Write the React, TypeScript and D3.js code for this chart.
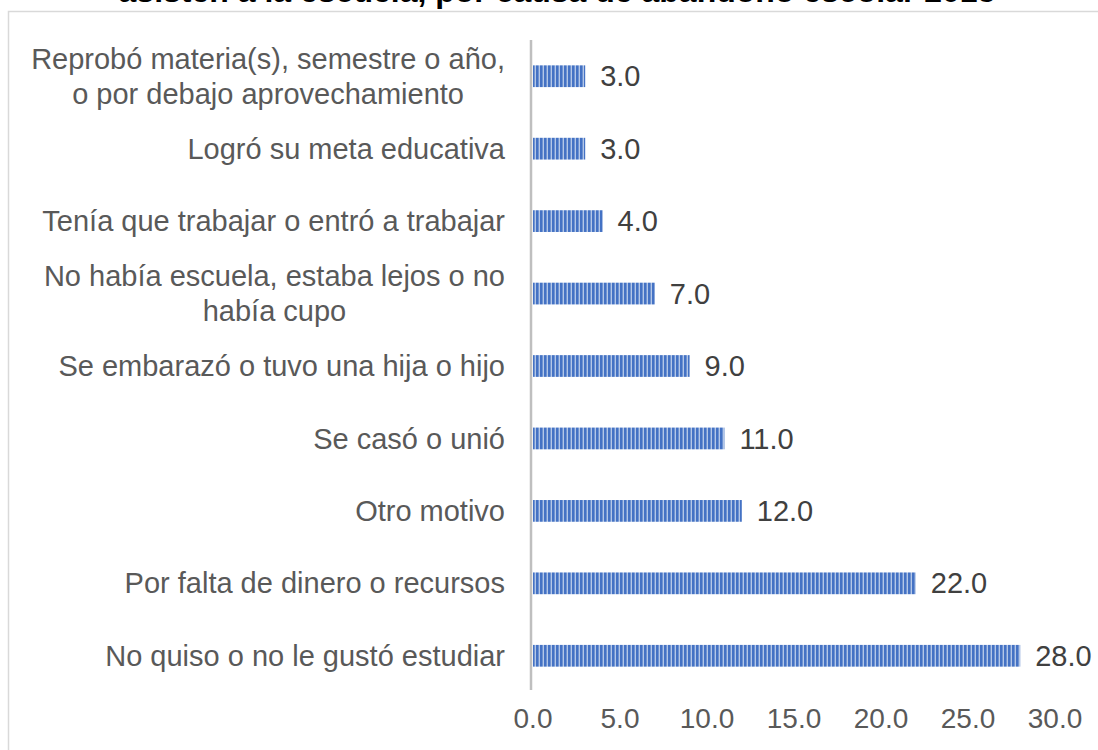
import React, { useEffect, useRef } from "react";
import * as d3 from "d3";

const categories = [
  "Reprobó materia(s), semestre o año,|o por debajo aprovechamiento",
  "Logró su meta educativa",
  "Tenía que trabajar o entró a trabajar",
  "No había escuela, estaba lejos o no|había cupo",
  "Se embarazó o tuvo una hija o hijo",
  "Se casó o unió",
  "Otro motivo",
  "Por falta de dinero o recursos",
  "No quiso o no le gustó estudiar",
];
const values = [3.0, 3.0, 4.0, 7.0, 9.0, 11.0, 12.0, 22.0, 28.0];
const ticks = [0, 5, 10, 15, 20, 25, 30];
const titleTail = "asisten a la escuela, por causa de abandono escolar 2015";

const App = () => {
  const svgRef = useRef<SVGSVGElement>(null);

  useEffect(() => {
    const width = 1098;
    const height = 750;
    const svg = d3.select(svgRef.current);
    svg.selectAll("*").remove();

    const font = "'Liberation Sans', Arial, sans-serif";
    const fs = "29px";
    const data = categories.map((c, i) => ({ cat: c, value: values[i] }));

    const x = d3.scaleLinear().domain([0, 30]).range([533, 1055]);
    const y = d3
      .scaleBand()
      .domain(categories)
      .range([40, 692])
      .paddingInner(0.7)
      .paddingOuter(0.35);

    // striped fill like the office chart
    const defs = svg.append("defs");
    const pat = defs
      .append("pattern")
      .attr("id", "stripes")
      .attr("patternUnits", "userSpaceOnUse")
      .attr("width", 4)
      .attr("height", 4);
    pat.append("rect").attr("width", 4).attr("height", 4).attr("fill", "#b4c7e7");
    pat.append("rect").attr("width", 2.6).attr("height", 4).attr("fill", "#4472c4");

    // chart frame
    svg
      .append("rect")
      .attr("x", 8.5)
      .attr("y", 11.5)
      .attr("width", width)
      .attr("height", height)
      .attr("fill", "none")
      .attr("stroke", "#d9d9d9")
      .attr("stroke-width", 1.5);

    // title (only its last line shows)
    svg
      .append("text")
      .attr("x", 557)
      .attr("y", 2)
      .attr("text-anchor", "middle")
      .style("font-family", font)
      .style("font-weight", "bold")
      .style("font-size", "32px")
      .attr("fill", "#000")
      .text(titleTail);

    // bars
    svg
      .selectAll("rect.bar")
      .data(data)
      .enter()
      .append("rect")
      .attr("class", "bar")
      .attr("x", x(0))
      .attr("y", d => y(d.cat)!)
      .attr("width", d => x(d.value) - x(0))
      .attr("height", y.bandwidth())
      .attr("fill", "url(#stripes)");

    // vertical axis line
    svg
      .append("line")
      .attr("x1", 531)
      .attr("x2", 531)
      .attr("y1", 40)
      .attr("y2", 690)
      .attr("stroke", "#bfbfbf")
      .attr("stroke-width", 2.5);

    // value labels
    svg
      .selectAll("text.val")
      .data(data)
      .enter()
      .append("text")
      .attr("class", "val")
      .attr("x", d => x(d.value) + 15)
      .attr("y", d => y(d.cat)! + y.bandwidth() / 2)
      .attr("dy", "0.35em")
      .style("font-family", font)
      .style("font-size", fs)
      .attr("fill", "#404040")
      .text(d => d3.format(".1f")(d.value));

    // category labels, multi-line ones centred as a block
    const lineH = 35;
    data.forEach(d => {
      const lines = d.cat.split("|");
      const cy = y(d.cat)! + y.bandwidth() / 2;
      const t = svg
        .append("text")
        .style("font-family", font)
        .style("font-size", fs)
        .attr("fill", "#595959");
      if (lines.length === 1) {
        t.attr("x", 505).attr("y", cy).attr("dy", "0.35em").attr("text-anchor", "end").text(lines[0]);
        return;
      }
      // measure widest line to centre the block against the right edge
      const tmp = svg.append("text").style("font-family", font).style("font-size", fs);
      const widths = lines.map(l => {
        tmp.text(l);
        return (tmp.node() as SVGTextElement).getComputedTextLength();
      });
      tmp.remove();
      const blockW = d3.max(widths) || 0;
      const cx = 505 - blockW / 2;
      lines.forEach((l, i) => {
        t.append("tspan")
          .attr("x", cx)
          .attr("y", cy + (i - (lines.length - 1) / 2) * lineH)
          .attr("dy", "0.35em")
          .attr("text-anchor", "middle")
          .text(l);
      });
    });

    // x tick labels
    svg
      .selectAll("text.tick")
      .data(ticks)
      .enter()
      .append("text")
      .attr("class", "tick")
      .attr("x", d => x(d))
      .attr("y", 718)
      .attr("dy", "0.35em")
      .attr("text-anchor", "middle")
      .style("font-family", font)
      .style("font-size", "28px")
      .attr("fill", "#595959")
      .text(d => d3.format(".1f")(d));
  }, []);

  return (
    <svg
      ref={svgRef}
      width={1098}
      height={750}
      style={{ position: "absolute", left: 0, top: 0, background: "#fff" }}
    />
  );
};

export default App;
